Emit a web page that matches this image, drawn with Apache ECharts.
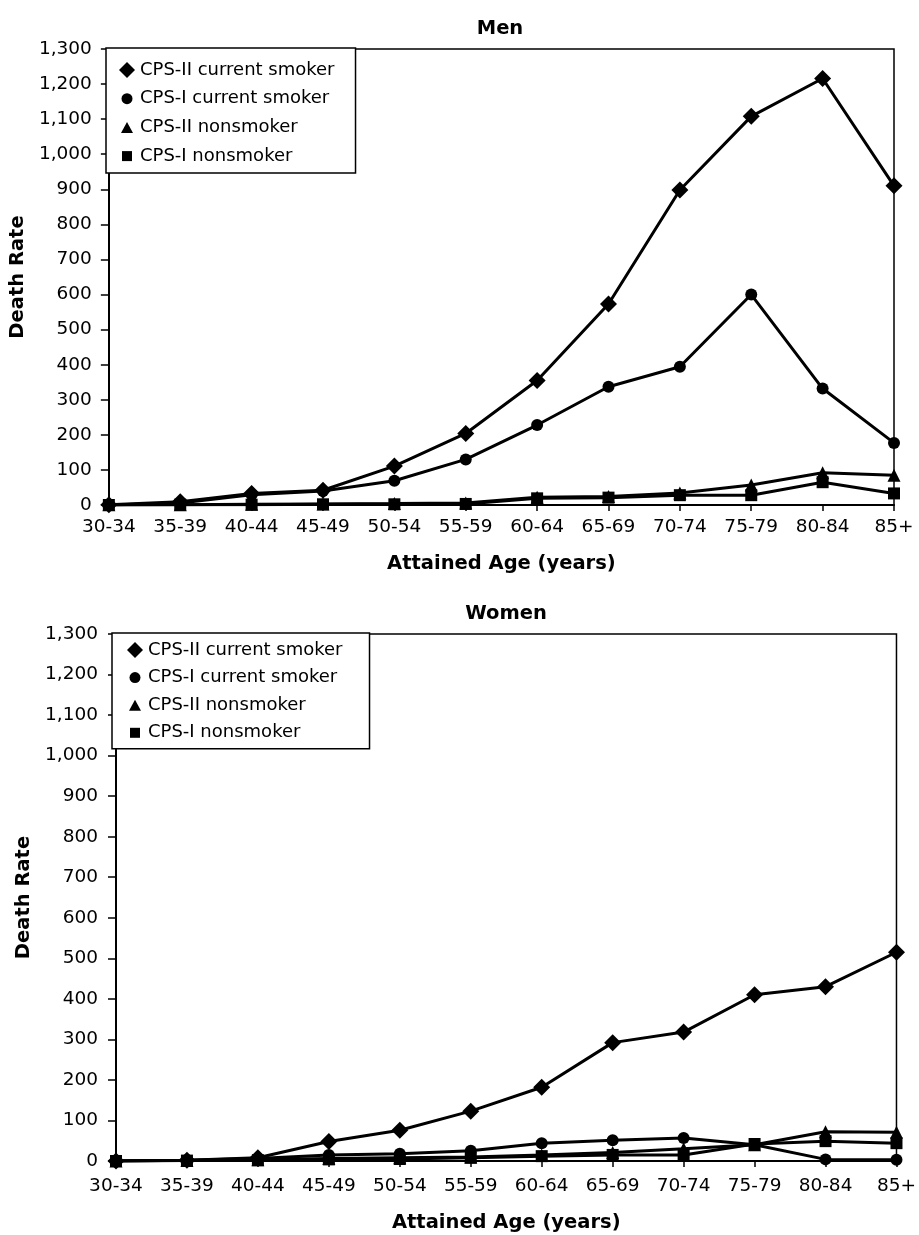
<!DOCTYPE html>
<html>
<head>
<meta charset="utf-8">
<title>Death Rate by Attained Age</title>
<script src="https://cdn.jsdelivr.net/npm/echarts@6/dist/echarts.min.js"></script>
<style>
  html, body { margin: 0; padding: 0; background: #fff; }
  #chart { width: 919px; height: 1235px; }
</style>
</head>
<body>
<div id="chart"></div>
<script>
// Age groups along the x axis
const ageGroups = ['30-34', '35-39', '40-44', '45-49', '50-54', '55-59',
                   '60-64', '65-69', '70-74', '75-79', '80-84', '85+'];

// Death rates, men
const menCps2Smoker    = [1, 9, 33, 42, 111, 204, 355, 573, 898, 1108, 1216, 910];
const menCps1Smoker    = [0, 6, 29, 40, 69, 130, 228, 337, 394, 600, 332, 177];
const menCps2NonSmoker = [1, 1, 2, 3, 4, 6, 22, 24, 34, 57, 92, 85];
const menCps1NonSmoker = [0, 1, 1, 2, 2, 3, 19, 21, 28, 28, 65, 33];

// Death rates, women
const womenCps2Smoker    = [0, 2, 8, 48, 76, 123, 182, 292, 318, 410, 430, 515];
const womenCps1Smoker    = [0, 2, 6, 15, 18, 25, 44, 51, 57, 40, 4, 3];
const womenCps2NonSmoker = [0, 1, 3, 6, 8, 10, 15, 21, 30, 40, 72, 71];
const womenCps1NonSmoker = [0, 1, 2, 4, 5, 8, 12, 15, 15, 42, 49, 44];

// Series names shown in each legend
const seriesNames = ['CPS-II current smoker', 'CPS-I current smoker',
                     'CPS-II nonsmoker', 'CPS-I nonsmoker'];

// Y axis range
const yMin = 0, yMax = 1300, yStep = 100;

const FONT = 'DejaVu Sans';
const INK = '#000';

// Marker shapes for each series
const symbols = ['diamond', 'circle', 'triangle', 'rect'];
const symbolSizes = [17, 12, 13, 12];

// Legend icons in a 16x16 box so the smaller shapes keep their size
const legendIcons = [
  'path://M8,0 L16,8 L8,16 L0,8 Z',
  'path://M0,0 M16,16 M2.5,8 A5.5,5.5 0 1 1 13.5,8 A5.5,5.5 0 1 1 2.5,8 Z',
  'path://M0,0 M16,16 M8,2.5 L14,13.5 L2,13.5 Z',
  'path://M0,0 M16,16 M3,3 L13,3 L13,13 L3,13 Z'
];

const fmtThousands = v => String(v).replace(/\B(?=(\d{3})+(?!\d))/g, ',');

function makeXAxis(gridIndex, nameGap, labelMargin) {
  return {
    type: 'category', gridIndex, data: ageGroups, boundaryGap: false,
    name: 'Attained Age (years)', nameLocation: 'middle', nameGap,
    nameTextStyle: { fontFamily: FONT, fontWeight: 'bold', fontSize: 19.5, color: INK },
    axisLine: { lineStyle: { color: INK, width: 2 } },
    axisTick: { show: true, inside: false, length: 6, lineStyle: { color: INK, width: 1.5 } },
    axisLabel: { fontFamily: FONT, fontSize: 18.5, color: INK, margin: labelMargin, interval: 0 },
    splitLine: { show: false }
  };
}

function makeYAxis(gridIndex, nameGap, labelMargin) {
  return {
    type: 'value', gridIndex, min: yMin, max: yMax, interval: yStep,
    name: 'Death Rate', nameLocation: 'middle', nameGap, nameRotate: 90,
    nameTextStyle: { fontFamily: FONT, fontWeight: 'bold', fontSize: 19.5, color: INK },
    axisLine: { show: true, lineStyle: { color: INK, width: 2 } },
    axisTick: { show: true, inside: false, length: 8, lineStyle: { color: INK, width: 1.5 } },
    axisLabel: { fontFamily: FONT, fontSize: 18.5, color: INK, margin: labelMargin,
                 formatter: fmtThousands },
    splitLine: { show: false }
  };
}

function makeSeries(axisIndex, values) {
  return values.map((vals, i) => ({
    name: seriesNames[i], type: 'line',
    xAxisIndex: axisIndex, yAxisIndex: axisIndex,
    data: vals,
    symbol: symbols[i], symbolSize: symbolSizes[i],
    showAllSymbol: true,
    lineStyle: { color: INK, width: 3 },
    itemStyle: { color: INK, borderWidth: 0 },
    z: 10 - i,
    animation: false
  }));
}

function makeLegend(left, top, padding, itemGap) {
  return {
    orient: 'vertical', left, top, padding, itemGap,
    itemWidth: 16, itemHeight: 16,
    backgroundColor: '#fff', borderColor: INK, borderWidth: 1.5,
    textStyle: { fontFamily: FONT, fontSize: 18, lineHeight: 18, color: INK },
    selectedMode: false,
    data: seriesNames.map((n, i) => ({ name: n, icon: legendIcons[i] })),
    z: 20
  };
}

const chart = echarts.init(document.getElementById('chart'), null, { renderer: 'canvas' });

chart.setOption({
  backgroundColor: '#fff',
  animation: false,
  title: [
    { text: 'Men', left: 495, top: 14, textAlign: 'center',
      textStyle: { fontFamily: FONT, fontWeight: 'bold', fontSize: 19.5, color: INK } },
    { text: 'Women', left: 501, top: 599, textAlign: 'center',
      textStyle: { fontFamily: FONT, fontWeight: 'bold', fontSize: 19.5, color: INK } }
  ],
  legend: [
    makeLegend(106, 48, [13, 21, 8, 13], 10.7),
    makeLegend(112, 633, [8, 27, 7, 15], 9.6)
  ],
  grid: [
    { left: 108, top: 49, width: 786, height: 456, show: true,
      borderColor: INK, borderWidth: 1.5, backgroundColor: 'transparent' },
    { left: 116, top: 634, width: 783, height: 527, show: true,
      borderColor: INK, borderWidth: 1.5, backgroundColor: 'transparent' }
  ],
  xAxis: [makeXAxis(0, 49, 13), makeXAxis(1, 52, 16)],
  yAxis: [makeYAxis(0, 77, 17), makeYAxis(1, 78, 18)],
  series: [
    ...makeSeries(0, [menCps2Smoker, menCps1Smoker, menCps2NonSmoker, menCps1NonSmoker]),
    ...makeSeries(1, [womenCps2Smoker, womenCps1Smoker, womenCps2NonSmoker, womenCps1NonSmoker])
  ]
});
</script>
</body>
</html>
